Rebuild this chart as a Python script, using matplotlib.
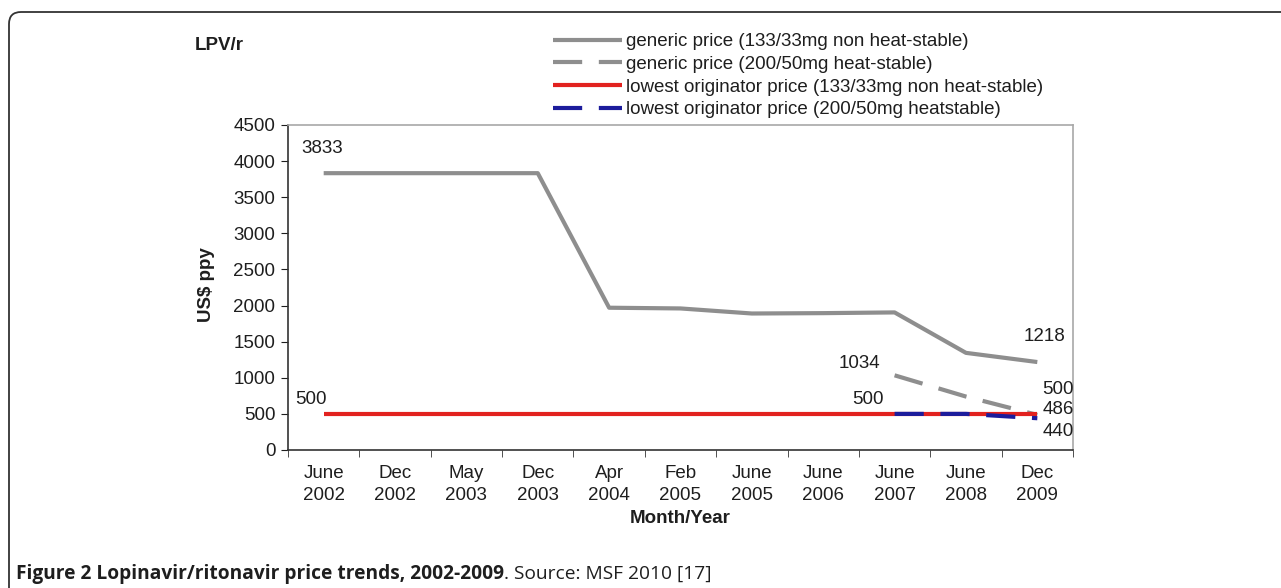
import matplotlib
matplotlib.use('Agg')
import matplotlib.pyplot as plt
from matplotlib.patches import FancyBboxPatch
from matplotlib import font_manager

# fonts: pick a narrow one if there is one
names = set(f.name for f in font_manager.fontManager.ttflist)
chart_font = 'Liberation Sans Narrow' if 'Liberation Sans Narrow' in names else 'Liberation Sans'
plt.rcParams['font.family'] = [chart_font, 'DejaVu Sans']

# data
months = ['June\n2002', 'Dec\n2002', 'May\n2003', 'Dec\n2003', 'Apr\n2004', 'Feb\n2005',
          'June\n2005', 'June\n2006', 'June\n2007', 'June\n2008', 'Dec\n2009']
generic_133 = [3833, 3833, 3833, 3833, 1970, 1960, 1890, 1895, 1905, 1345, 1218]
generic_200 = [None] * 8 + [1034, 740, 486]
orig_133 = [500] * 11
orig_200 = [None] * 8 + [500, 500, 440]

leg_labels = ['generic price (133/33mg non heat-stable)',
              'generic price (200/50mg heat-stable)',
              'lowest originator price (133/33mg non heat-stable)',
              'lowest originator price (200/50mg heatstable)']

grey = '#8e8e8e'
red = '#e2221f'
blue = '#1c1c9c'
ink = '#1e1e1e'
fs = 13.5

x = list(range(len(months)))
def pts(vals):
    xs = [i for i, v in zip(x, vals) if v is not None]
    ys = [v for v in vals if v is not None]
    return xs, ys

fig = plt.figure(figsize=(12.81, 5.88), dpi=100)
ax = fig.add_axes([288/1281, 1 - 450/588, 785/1281, 325/588])

l1, = ax.plot(*pts(generic_133), color=grey, lw=3, solid_capstyle='butt')
l2, = ax.plot(*pts(generic_200), color=grey, lw=3, dashes=(7, 4))
l3, = ax.plot(*pts(orig_133), color=red, lw=3, solid_capstyle='butt')
l4, = ax.plot(*pts(orig_200), color=blue, lw=3, dashes=(7, 4))

ax.set_xlim(-0.5, len(months) - 0.5)
ax.set_ylim(0, 4500)
ax.set_yticks(range(0, 4501, 500))
ax.set_xticks(x)
ax.set_xticklabels(months, fontsize=fs, color=ink, linespacing=1.4)
ax.tick_params(axis='x', length=0, pad=11)
ax.set_xticks([i - 0.5 for i in range(len(months) + 1)], minor=True)
ax.tick_params(axis='x', which='minor', length=5, direction='out', color='#333333')
ax.tick_params(axis='y', length=5, direction='out', labelsize=fs, colors=ink, pad=4)

for s in ['top', 'right']:
    ax.spines[s].set_color('#a8a8a8')
    ax.spines[s].set_linewidth(1.2)
for s in ['left', 'bottom']:
    ax.spines[s].set_color('#333333')
    ax.spines[s].set_linewidth(1.2)

ax.set_ylabel('US$ ppy', fontsize=fs, fontweight='bold', color=ink)
ax.yaxis.set_label_coords(-0.093, 0.51)
ax.set_xlabel('Month/Year', fontsize=fs, fontweight='bold', color=ink)
ax.xaxis.set_label_coords(0.5, -0.185)

# value labels
def lab(txt, xi, yv, dx, dy):
    ax.annotate(txt, (xi, yv), xytext=(dx, dy), textcoords='offset pixels',
                ha='center', va='center', fontsize=fs, color=ink)

lab('3833', 0, generic_133[0], -2, 25)
lab('500', 0, orig_133[0], -13, 14)
lab('500', 8, orig_133[8], -27, 14)
lab('1034', 8, generic_200[8], -35, 12)
lab('1218', 10, generic_133[10], 7, 26)
lab('500', 10, orig_133[10], 21, 24)
lab('486', 10, generic_200[10], 21, 5)
lab('440', 10, orig_200[10], 21, -13)

fig.text(195/1281, 1 - 46/588, 'LPV/r', fontsize=fs, fontweight='bold',
         va='center', ha='left', color=ink)

leg = fig.legend([l1, l2, l3, l4], leg_labels, loc='upper left',
                 bbox_to_anchor=(553/1281, 1 - 33/588), frameon=False,
                 fontsize=fs, handlelength=3.7, handletextpad=0.2,
                 labelspacing=0.3, borderpad=0, borderaxespad=0)
for t in leg.get_texts():
    t.set_color(ink)

# frame round the figure
frame = FancyBboxPatch((9, -40), 1400, 588 - 12 + 40, transform=None,
                       boxstyle='round,pad=0,rounding_size=12',
                       fill=False, edgecolor='#333333', lw=1.3)
fig.patches.append(frame)
frame.set_figure(fig)

cap_font = ['Open Sans', 'DejaVu Sans']
t1 = fig.text(16/1281, 1 - 574/588, 'Figure 2 Lopinavir/ritonavir price trends, 2002-2009',
              fontsize=13.8, fontweight='bold', family=cap_font, va='center', color=ink)
ax.annotate('. Source: MSF 2010 [17]', xy=(1, 0.5), xycoords=t1, va='center',
            fontsize=13.8, family=cap_font, color=ink, annotation_clip=False)

fig.savefig('out.png', dpi=100)
